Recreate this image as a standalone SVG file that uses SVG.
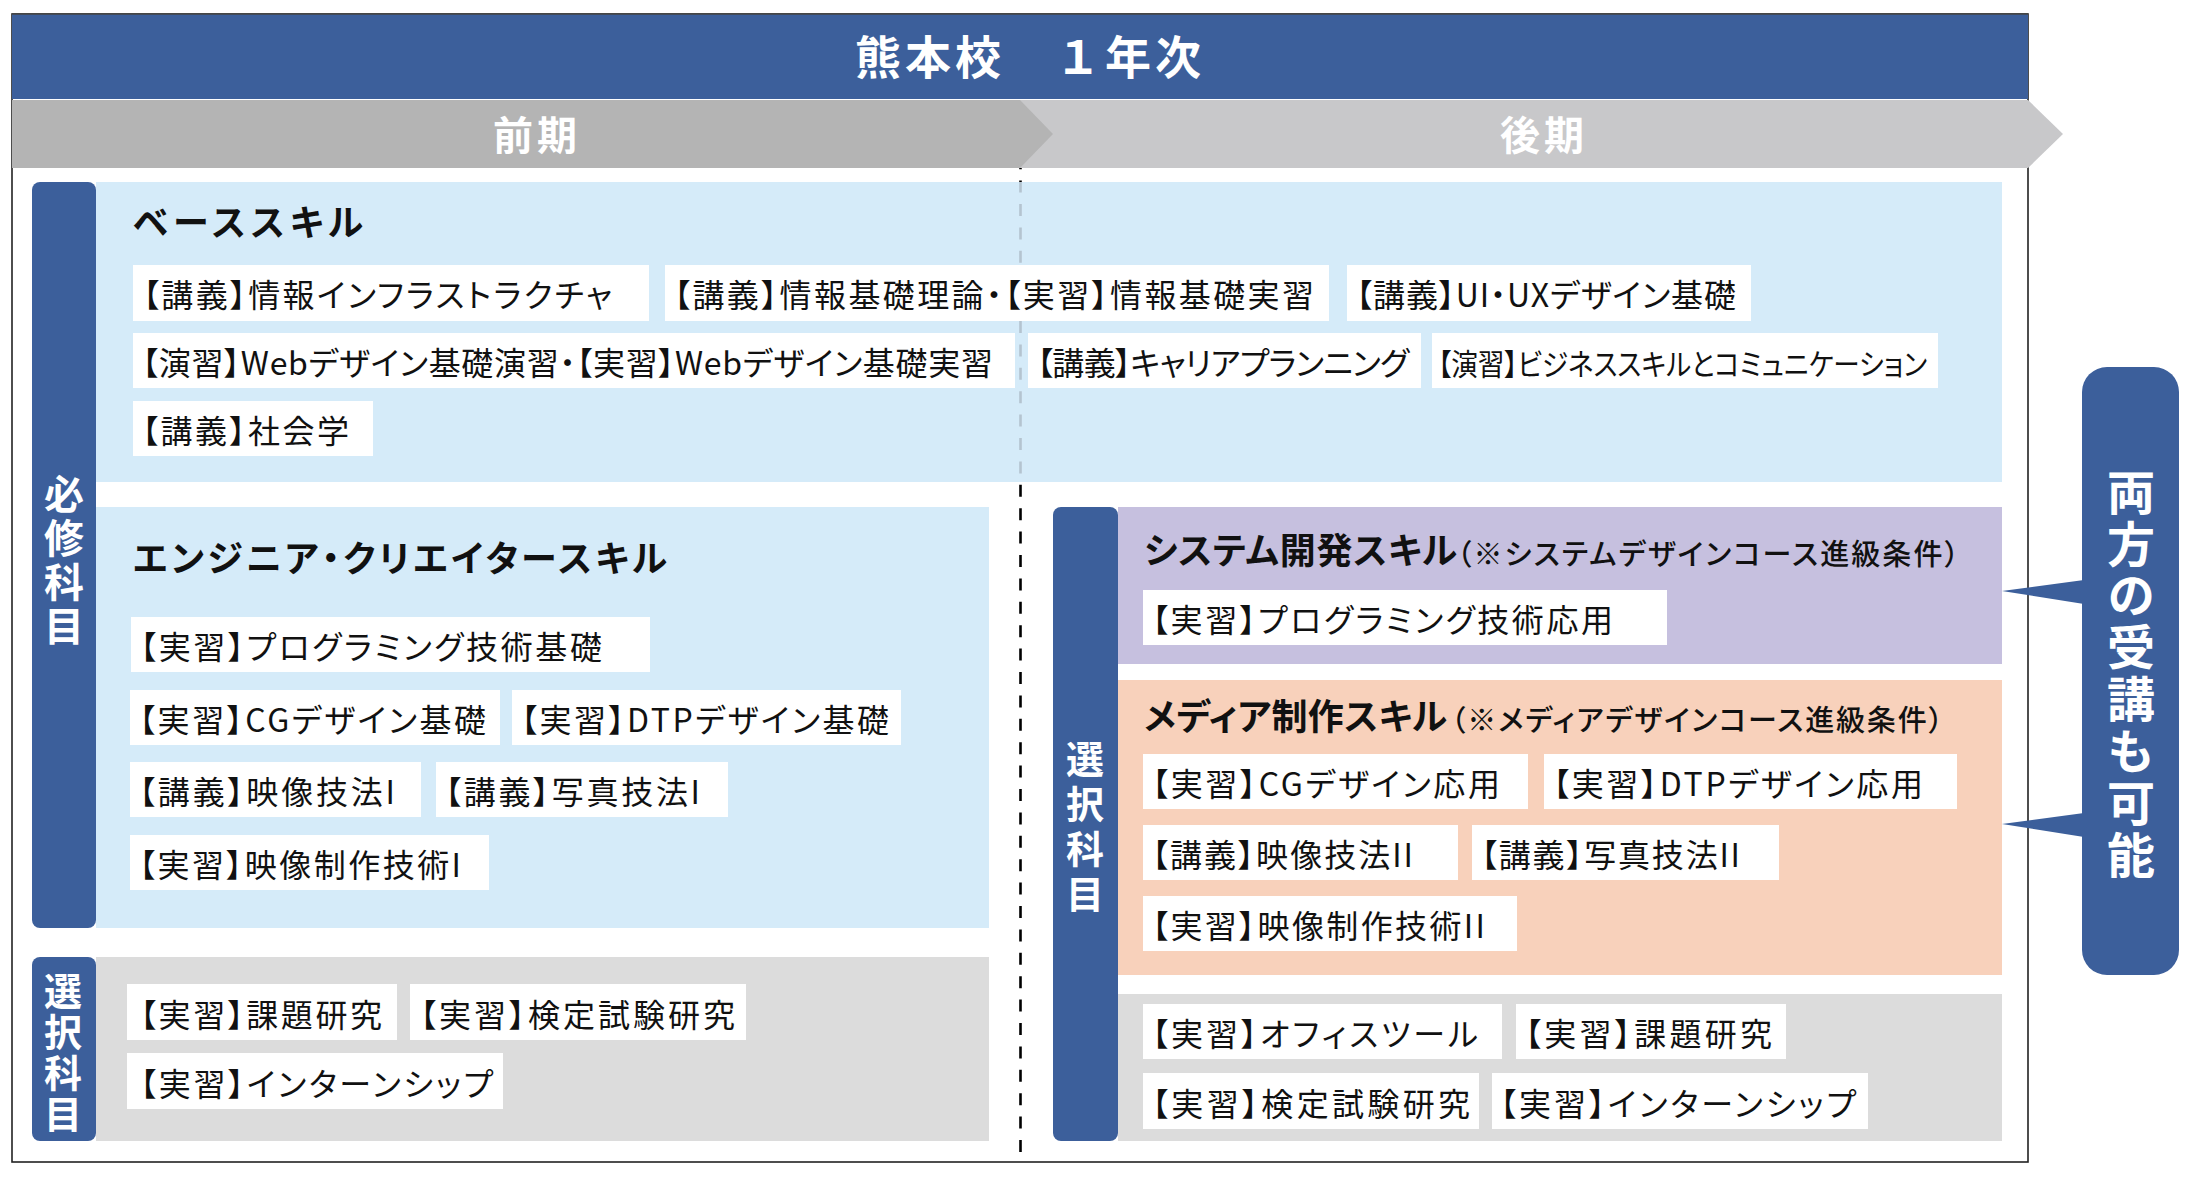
<svg xmlns="http://www.w3.org/2000/svg" width="2193" height="1177" viewBox="0 0 2193 1177">
<style>
text{font-family:"Noto Sans CJK JP","Noto Sans",sans-serif;font-feature-settings:"palt";}
.item{font-size:32px;fill:#111;}
.box{fill:#ffffff;}
.head{font-size:36px;font-weight:700;fill:#111;}
.sub{font-size:29px;font-weight:500;fill:#111;}
.vlbl{font-weight:700;fill:#ffffff;text-anchor:middle;writing-mode:vertical-rl;font-feature-settings:normal;}
.blue{fill:#3C5F9B;}
.band{font-size:40px;font-weight:700;fill:#ffffff;text-anchor:middle;letter-spacing:4px;}
.dash{stroke-width:2.6;stroke-dasharray:12 11.4;fill:none;}
</style>
<rect width="2193" height="1177" fill="#ffffff"/>
<g id="frame">
<rect x="12" y="14" width="2016" height="1148" fill="none" stroke="#222" stroke-width="1.6"/>
</g>
<g id="title">
<rect x="12" y="14" width="2016" height="85" class="blue"/>
<line x1="12" y1="14" x2="2028" y2="14" stroke="#444" stroke-width="1.5"/>
<text x="855" y="74" font-size="46" font-weight="700" fill="#fff" letter-spacing="4" style="font-feature-settings:normal">熊本校　１年次</text>
</g>
<g id="term-latter">
<polygon points="1020,100 2028,100 2063,134 2028,168 1020,168" fill="#C8C8CA"/>
<text x="1544" y="150" class="band">後期</text>
</g>
<g id="term-former">
<polygon points="12,100 1020,100 1053,134 1020,168 12,168" fill="#B4B4B4"/>
<text x="537" y="150" class="band">前期</text>
</g>

<g id="panels">
<rect x="96" y="182" width="1906" height="300" fill="#D5EBF9"/>
<rect x="96" y="507" width="893" height="421" fill="#D5EBF9"/>
<rect x="96" y="957" width="893" height="184" fill="#DCDCDC"/>
<rect x="1118" y="507" width="884" height="157" fill="#C6C0DF"/>
<rect x="1118" y="680" width="884" height="295" fill="#F8D1BB"/>
<rect x="1118" y="994" width="884" height="147" fill="#DCDCDC"/>
</g>

<g id="divider">
<line x1="1020.5" y1="168" x2="1020.5" y2="182" stroke="#000" class="dash" stroke-dashoffset="10.8"/>
<line x1="1020.5" y1="182" x2="1020.5" y2="482" stroke="#B4C4D0" class="dash" stroke-dashoffset="1.4"/>
<line x1="1020.5" y1="482" x2="1020.5" y2="1161" stroke="#000" class="dash" stroke-dashoffset="20.6"/>
</g>

<g id="label-required">
<rect x="32" y="182" width="64" height="746" rx="8" class="blue"/>
<text x="64" y="562" class="vlbl" style="font-size:40px;letter-spacing:4.3px">必修科目</text>
</g>
<g id="label-elective-left">
<rect x="32" y="957" width="64" height="184" rx="8" class="blue"/>
<text x="63" y="1054" class="vlbl" style="font-size:38px;letter-spacing:3px">選択科目</text>
</g>
<g id="label-elective-right">
<rect x="1053" y="507" width="65" height="634" rx="8" class="blue"/>
<text x="1085" y="830" class="vlbl" style="font-size:38px;letter-spacing:7px">選択科目</text>
</g>

<g id="base-skill">
<text x="133" y="236" class="head" textLength="230">ベーススキル</text>
<rect x="133" y="265" width="516" height="56" class="box"/>
<text x="143" y="307" class="item" textLength="469">【講義】情報インフラストラクチャ</text>
<rect x="665" y="265" width="664" height="56" class="box"/>
<text x="674" y="307" class="item" textLength="640">【講義】情報基礎理論・【実習】情報基礎実習</text>
<rect x="1347" y="265" width="404" height="56" class="box"/>
<text x="1356" y="307" class="item" textLength="380">【講義】UI・UXデザイン基礎</text>
<rect x="133" y="333" width="882" height="55" class="box"/>
<text x="142" y="375" class="item" textLength="851">【演習】Webデザイン基礎演習・【実習】Webデザイン基礎実習</text>
<rect x="1028" y="333" width="393" height="55" class="box"/>
<text x="1037" y="375" class="item" textLength="372">【講義】キャリアプランニング</text>
<rect x="1432" y="333" width="506" height="55" class="box"/>
<text x="1438" y="375" class="item" style="font-size:30px" textLength="489" lengthAdjust="spacingAndGlyphs">【演習】ビジネススキルとコミュニケーション</text>
<rect x="133" y="401" width="240" height="55" class="box"/>
<text x="142" y="443" class="item" textLength="207">【講義】社会学</text>
</g>

<g id="engineer-skill">
<text x="133" y="572" class="head" textLength="534">エンジニア・クリエイタースキル</text>
<rect x="131" y="617" width="519" height="55" class="box"/>
<text x="140" y="659" class="item" textLength="462">【実習】プログラミング技術基礎</text>
<rect x="130" y="690" width="370" height="55" class="box"/>
<text x="139" y="732" class="item" textLength="347">【実習】CGデザイン基礎</text>
<rect x="512" y="690" width="389" height="55" class="box"/>
<text x="521" y="732" class="item" textLength="368">【実習】DTPデザイン基礎</text>
<rect x="130" y="762" width="291" height="55" class="box"/>
<text x="139" y="804" class="item" textLength="256">【講義】映像技法I</text>
<rect x="436" y="762" width="292" height="55" class="box"/>
<text x="445" y="804" class="item" textLength="255">【講義】写真技法I</text>
<rect x="130" y="835" width="359" height="55" class="box"/>
<text x="139" y="877" class="item" textLength="322">【実習】映像制作技術I</text>
</g>

<g id="elective-left">
<rect x="127" y="984" width="270" height="56" class="box"/>
<text x="140" y="1027" class="item" textLength="242">【実習】課題研究</text>
<rect x="410" y="984" width="336" height="56" class="box"/>
<text x="420" y="1027" class="item" textLength="315">【実習】検定試験研究</text>
<rect x="127" y="1053" width="376" height="56" class="box"/>
<text x="140" y="1096" class="item" textLength="353">【実習】インターンシップ</text>
</g>

<g id="system-skill">
<text x="1144" y="564" class="head" textLength="313">システム開発スキル</text>
<text x="1457" y="565" class="sub" textLength="502">（※システムデザインコース進級条件）</text>
<rect x="1143" y="590" width="524" height="55" class="box"/>
<text x="1152" y="632" class="item" textLength="461">【実習】プログラミング技術応用</text>
</g>

<g id="media-skill">
<text x="1144" y="730" class="head" textLength="303">メディア制作スキル</text>
<text x="1451" y="731" class="sub" textLength="492">（※メディアデザインコース進級条件）</text>
<rect x="1143" y="754" width="385" height="55" class="box"/>
<text x="1152" y="796" class="item" textLength="348">【実習】CGデザイン応用</text>
<rect x="1544" y="754" width="413" height="55" class="box"/>
<text x="1553" y="796" class="item" textLength="370">【実習】DTPデザイン応用</text>
<rect x="1143" y="825" width="315" height="55" class="box"/>
<text x="1152" y="867" class="item" textLength="261">【講義】映像技法II</text>
<rect x="1472" y="825" width="307" height="55" class="box"/>
<text x="1481" y="867" class="item" textLength="259">【講義】写真技法II</text>
<rect x="1143" y="896" width="374" height="55" class="box"/>
<text x="1152" y="938" class="item" textLength="333">【実習】映像制作技術II</text>
</g>

<g id="elective-right">
<rect x="1143" y="1004" width="359" height="55" class="box"/>
<text x="1152" y="1046" class="item" textLength="326">【実習】オフィスツール</text>
<rect x="1516" y="1004" width="270" height="55" class="box"/>
<text x="1525" y="1046" class="item" textLength="247">【実習】課題研究</text>
<rect x="1143" y="1073" width="336" height="56" class="box"/>
<text x="1152" y="1116" class="item" textLength="318">【実習】検定試験研究</text>
<rect x="1492" y="1073" width="376" height="56" class="box"/>
<text x="1500" y="1116" class="item" textLength="356">【実習】インターンシップ</text>
</g>

<g id="both-allowed">
<polygon points="2084,580 2002,591 2084,604" class="blue"/>
<polygon points="2084,813 2002,824 2084,837" class="blue"/>
<rect x="2082" y="367" width="97" height="608" rx="25" class="blue"/>
<text x="2131" y="675" class="vlbl" style="font-size:48px;letter-spacing:3.9px">両方の受講も可能</text>
</g>
</svg>
